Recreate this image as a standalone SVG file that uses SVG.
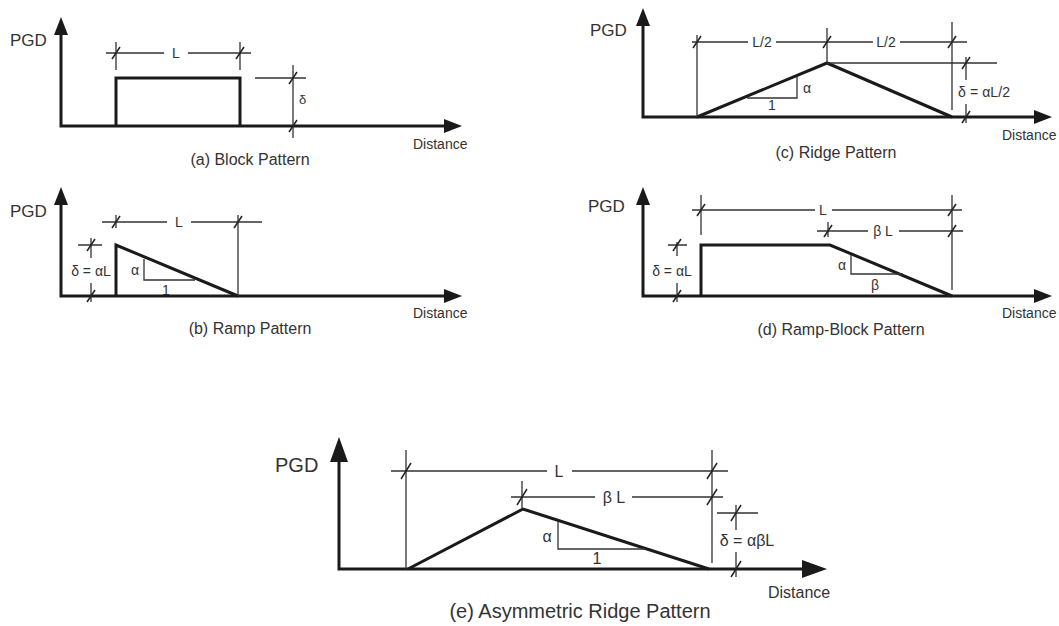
<svg xmlns="http://www.w3.org/2000/svg" xmlns:xlink="http://www.w3.org/1999/xlink" width="1059" height="626" viewBox="0 0 1059 626">
<style>
.axis{fill:none;stroke:#1a1a1a;stroke-width:3;stroke-linejoin:miter}
.shape{fill:none;stroke:#1a1a1a;stroke-width:3;stroke-linejoin:miter}
.dim{fill:none;stroke:#333;stroke-width:1.3}
.tk{fill:none;stroke:#222;stroke-width:1.5}
text{font-family:"Liberation Sans",Arial,sans-serif;fill:#333}
.lbl{font-size:17px}
.dist{font-size:14px}
.cap{font-size:16px;text-anchor:middle}
.dl{font-size:14px;text-anchor:middle}
.lblE{font-size:20px}
.distE{font-size:16px}
.capE{font-size:20px;text-anchor:middle}
.dlE{font-size:16px;text-anchor:middle}
</style>
<defs>
<marker id="arr" markerUnits="userSpaceOnUse" markerWidth="18" markerHeight="14" viewBox="0 0 18 14" refX="2" refY="7" orient="auto-start-reverse">
<path d="M0,0 L18,7 L0,14 z" fill="#1a1a1a"/>
</marker>
<marker id="arrE" markerUnits="userSpaceOnUse" markerWidth="25" markerHeight="18" viewBox="0 0 25 18" refX="3" refY="9" orient="auto-start-reverse">
<path d="M0,0 L25,9 L0,18 z" fill="#1a1a1a"/>
</marker>
<path id="tk" class="tk" d="M-4,6 L4,-6"/>
<path id="tkE" class="tk" d="M-5,8 L5,-8"/>
</defs>

<g id="panel-a">
<path class="axis" d="M61,33 V126 H446" marker-start="url(#arr)" marker-end="url(#arr)"/>
<path class="shape" d="M116,126 V78 H240 V126"/>
<g id="dims-a">
<path class="dim" d="M106,53 H164 M188,53 H251 M116,42 V70 M240,42 V70 M293,65 V138 M255,78 H306"/>
<use href="#tk" x="116" y="53"/><use href="#tk" x="240" y="53"/>
<use href="#tk" x="293" y="78"/><use href="#tk" x="293" y="126"/>
</g>
<text class="dl" x="176" y="58">L</text>
<text x="299" y="104" style="font-size:13px">δ</text>
<text class="lbl" x="10" y="46">PGD</text>
<text class="dist" x="413" y="149">Distance</text>
<text class="cap" x="250" y="165">(a) Block Pattern</text>
</g>

<g id="panel-b">
<path class="axis" d="M61,203 V296 H446" marker-start="url(#arr)" marker-end="url(#arr)"/>
<path class="shape" d="M116,296 V245 L238,296"/>
<g id="dims-b">
<path class="dim" d="M102,222 H167 M191,222 H262 M116,215 V228 M238,215 V296 M91,238 V258 M91,283 V302 M78,245 H102 M144,259 V280 H195"/>
<use href="#tk" x="116" y="222"/><use href="#tk" x="238" y="222"/>
<use href="#tk" x="91" y="245"/><use href="#tk" x="91" y="296"/>
</g>
<text class="dl" x="179" y="227">L</text>
<text class="dl" x="91" y="276">δ = αL</text>
<text class="dl" x="135" y="275">α</text>
<text class="dl" x="166" y="295">1</text>
<text class="lbl" x="10" y="217">PGD</text>
<text class="dist" x="413" y="318">Distance</text>
<text class="cap" x="250" y="334">(b) Ramp Pattern</text>
</g>

<g id="panel-c">
<path class="axis" d="M643,24 V117 H1036" marker-start="url(#arr)" marker-end="url(#arr)"/>
<path class="shape" d="M697,117 L827,63 L952,117"/>
<g id="dims-c">
<path class="dim" d="M692,42 H748 M776,42 H873 M900,42 H967 M697,35 V117 M827,28 V63 M952,22 V110 M827,63 H997 M966,57 V80 M966,104 V123 M797,77 V98 H747"/>
<use href="#tk" x="697" y="42"/><use href="#tk" x="827" y="42"/><use href="#tk" x="952" y="42"/>
<use href="#tk" x="966" y="63"/><use href="#tk" x="966" y="117"/>
</g>
<text class="dl" x="762" y="47">L/2</text>
<text class="dl" x="886" y="47">L/2</text>
<text class="dl" x="984" y="97" textLength="52" lengthAdjust="spacing">δ = αL/2</text>
<text class="dl" x="807" y="93">α</text>
<text class="dl" x="772" y="110">1</text>
<text class="lbl" x="590" y="36">PGD</text>
<text class="dist" x="1002" y="140">Distance</text>
<text class="cap" x="836" y="158">(c) Ridge Pattern</text>
</g>

<g id="panel-d">
<path class="axis" d="M643,203 V296 H1036" marker-start="url(#arr)" marker-end="url(#arr)"/>
<path class="shape" d="M701,296 V245 H830 L952,296"/>
<g id="dims-d">
<path class="dim" d="M692,210 H815 M832,210 H962 M701,195 V235 M952,195 V290 M817,231 H868 M899,231 H963 M828,222 V237 M677,242 V256 M677,283 V302 M668,245 H687 M851,255 V274 H903"/>
<use href="#tk" x="701" y="210"/><use href="#tk" x="952" y="210"/>
<use href="#tk" x="828" y="231"/><use href="#tk" x="952" y="231"/>
<use href="#tk" x="677" y="245"/><use href="#tk" x="677" y="296"/>
</g>
<text class="dl" x="823" y="215">L</text>
<text class="dl" x="883" y="236">β L</text>
<text class="dl" x="672" y="276">δ = αL</text>
<text class="dl" x="842" y="270">α</text>
<text class="dl" x="875" y="290">β</text>
<text class="lbl" x="588" y="212">PGD</text>
<text class="dist" x="1002" y="318">Distance</text>
<text class="cap" x="841" y="335">(d) Ramp-Block Pattern</text>
</g>

<g id="panel-e">
<path class="axis" d="M339,459 V569 H805" marker-start="url(#arrE)" marker-end="url(#arrE)"/>
<path class="shape" d="M408,569 L523,509 L709,569"/>
<g id="dims-e">
<path class="dim" d="M391,471 H547 M572,471 H728 M406,450 V569 M712,450 V563 M511,497 H595 M632,497 H723 M522,481 V509 M736,505 V530 M736,552 V577 M717,513 H758 M558,521 V549 H645"/>
<use href="#tkE" x="406" y="471"/><use href="#tkE" x="712" y="471"/>
<use href="#tkE" x="522" y="497"/><use href="#tkE" x="712" y="497"/>
<use href="#tkE" x="736" y="513"/><use href="#tkE" x="736" y="569"/>
</g>
<text class="dlE" x="559" y="477">L</text>
<text class="dlE" x="614" y="503">β L</text>
<text class="dlE" x="747" y="546">δ = αβL</text>
<text class="dlE" x="547" y="542">α</text>
<text class="dlE" x="597" y="564">1</text>
<text class="lblE" x="275" y="472">PGD</text>
<text class="distE" x="768" y="598">Distance</text>
<text class="capE" x="580" y="618">(e) Asymmetric Ridge Pattern</text>
</g>
</svg>
